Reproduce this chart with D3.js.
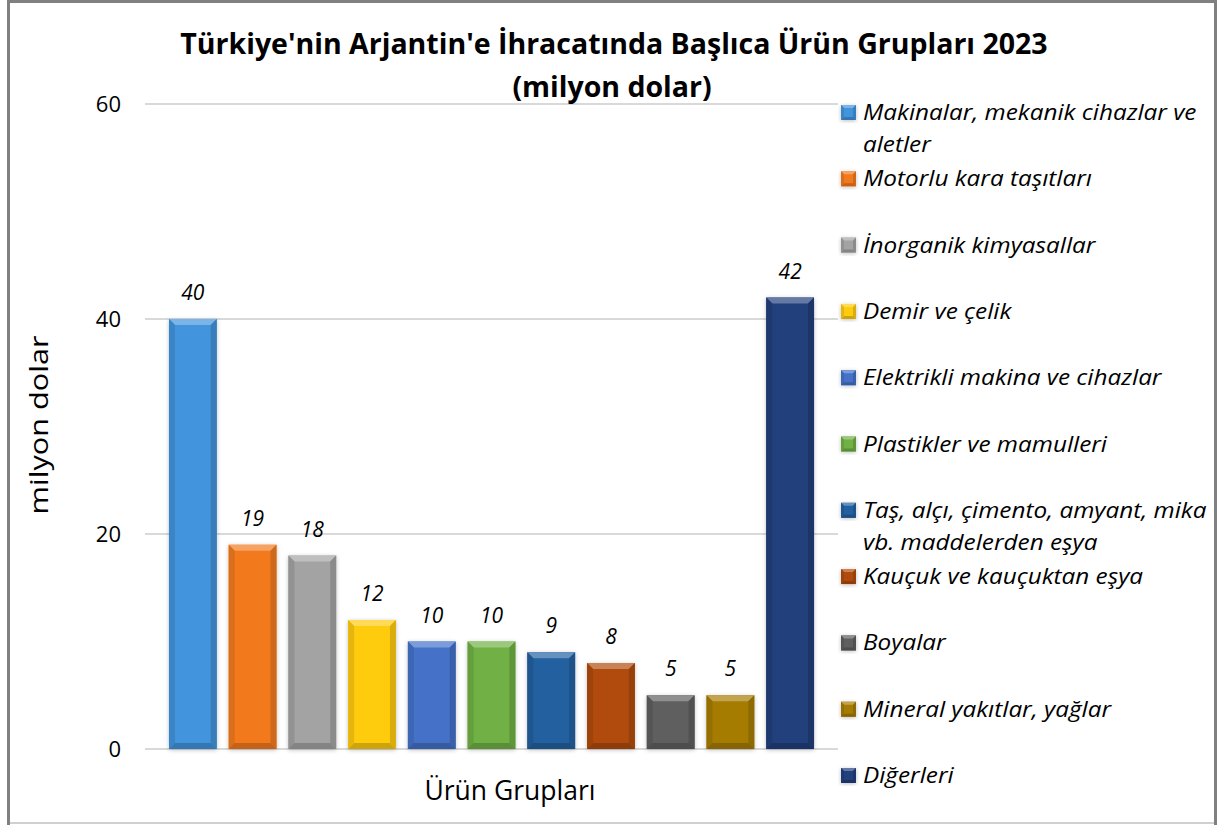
<!DOCTYPE html>
<html lang="tr">
<head>
<meta charset="utf-8">
<script src="https://cdn.jsdelivr.net/npm/d3@7"></script>
<style>
  body { margin: 0; background: #fff; }
  svg text { font-family: "Open Sans", Lato, sans-serif; fill: #000; }
</style>
</head>
<body>
<script>
// data
var categories = ["Makinalar, mekanik cihazlar ve aletler", "Motorlu kara taşıtları", "İnorganik kimyasallar",
  "Demir ve çelik", "Elektrikli makina ve cihazlar", "Plastikler ve mamulleri",
  "Taş, alçı, çimento, amyant, mika vb. maddelerden eşya", "Kauçuk ve kauçuktan eşya",
  "Boyalar", "Mineral yakıtlar, yağlar", "Diğerleri"];
var values = [40, 19, 18, 12, 10, 10, 9, 8, 5, 5, 42];
var legendLines = [["Makinalar, mekanik cihazlar ve", "aletler"], ["Motorlu kara taşıtları"], ["İnorganik kimyasallar"],
  ["Demir ve çelik"], ["Elektrikli makina ve cihazlar"], ["Plastikler ve mamulleri"],
  ["Taş, alçı, çimento, amyant, mika", "vb. maddelerden eşya"], ["Kauçuk ve kauçuktan eşya"],
  ["Boyalar"], ["Mineral yakıtlar, yağlar"], ["Diğerleri"]];
var colors = ["#4294dc", "#f27a1e", "#a3a3a3", "#ffcb0f", "#4471c8", "#6fb044",
  "#2460a0", "#b04c0c", "#5f5f5f", "#a67c05", "#213f7c"];
var yTicks = [0, 20, 40, 60];

var W = 1223, H = 825;
var svg = d3.select("body").append("svg").attr("width", W).attr("height", H);

// chart border
svg.append("rect").attr("x", 0).attr("y", 0).attr("width", W).attr("height", H).attr("fill", "#fff");
svg.append("line").attr("x1", 8).attr("x2", 1216).attr("y1", 823).attr("y2", 823).attr("stroke", "#d0d0d0").attr("stroke-width", 2);
svg.append("rect").attr("x", 8.5).attr("y", 1.5).attr("width", 1207).attr("height", 830)
  .attr("fill", "none").attr("stroke", "#808080").attr("stroke-width", 3);

var y = d3.scaleLinear().domain([0, 60]).range([749, 104]);
var x = d3.scaleBand().domain(categories).range([163, 820]).paddingInner(0.2).paddingOuter(0.1);

// grid
svg.append("g").selectAll("line").data(yTicks).join("line")
  .attr("x1", 145).attr("x2", 838)
  .attr("y1", function(d) { return y(d); }).attr("y2", function(d) { return y(d); })
  .attr("stroke", "#d9d9d9").attr("stroke-width", 2);

// y axis labels
svg.append("g").selectAll("text").data(yTicks).join("text")
  .attr("x", 121).attr("y", function(d) { return y(d) + 8; })
  .attr("text-anchor", "end").attr("font-size", 22)
  .text(function(d) { return d; });

// defs for shadow
var defs = svg.append("defs");
var f = defs.append("filter").attr("id", "sh").attr("x", "-20%").attr("y", "-20%").attr("width", "140%").attr("height", "140%");
f.append("feDropShadow").attr("dx", 0).attr("dy", 1).attr("stdDeviation", 2).attr("flood-color", "#000").attr("flood-opacity", 0.25);

function bevel(g, x0, y0, w, h, c, b) {
  var base = d3.color(c);
  g.append("rect").attr("x", x0).attr("y", y0).attr("width", w).attr("height", h).attr("fill", base).attr("filter", "url(#sh)");
  var x1 = x0 + w, y1 = y0 + h;
  // top
  g.append("path").attr("d", "M" + x0 + "," + y0 + "L" + x1 + "," + y0 + "L" + (x1 - b) + "," + (y0 + b) + "L" + (x0 + b) + "," + (y0 + b) + "Z")
    .attr("fill", d3.interpolateRgb(base, "#fff")(0.3));
  // left
  g.append("path").attr("d", "M" + x0 + "," + y0 + "L" + (x0 + b) + "," + (y0 + b) + "L" + (x0 + b) + "," + (y1 - b) + "L" + x0 + "," + y1 + "Z")
    .attr("fill", base.darker(0.3));
  // right
  g.append("path").attr("d", "M" + x1 + "," + y0 + "L" + (x1 - b) + "," + (y0 + b) + "L" + (x1 - b) + "," + (y1 - b) + "L" + x1 + "," + y1 + "Z")
    .attr("fill", base.darker(0.45));
  // bottom
  g.append("path").attr("d", "M" + x0 + "," + y1 + "L" + (x0 + b) + "," + (y1 - b) + "L" + (x1 - b) + "," + (y1 - b) + "L" + x1 + "," + y1 + "Z")
    .attr("fill", base.darker(0.6));
}

// bars
var bars = svg.append("g");
categories.forEach(function(c, i) {
  var g = bars.append("g");
  bevel(g, x(c), y(values[i]), x.bandwidth(), y(0) - y(values[i]), colors[i], 6);
});

// value labels
svg.append("g").selectAll("text").data(values).join("text")
  .attr("x", function(d, i) { return x(categories[i]) + x.bandwidth() / 2; })
  .attr("y", function(d) { return y(d) - 19; })
  .attr("text-anchor", "middle").attr("font-size", 21).attr("font-style", "italic")
  .text(function(d) { return d; });

// title
svg.append("text").attr("x", 614).attr("y", 54).attr("text-anchor", "middle")
  .attr("font-size", 28.5).attr("font-weight", "bold")
  .text("Türkiye'nin Arjantin'e İhracatında Başlıca Ürün Grupları 2023");
svg.append("text").attr("x", 612).attr("y", 97).attr("text-anchor", "middle")
  .attr("font-size", 28.5).attr("font-weight", "bold")
  .text("(milyon dolar)");

// axis titles
svg.append("text").attr("transform", "translate(48,425) rotate(-90) scale(1.18,1)").attr("text-anchor", "middle")
  .attr("font-size", 26).text("milyon dolar");
svg.append("text").attr("x", 510).attr("y", 800).attr("text-anchor", "middle")
  .attr("font-size", 26.5).text("Ürün Grupları");

// legend
var ly = d3.scalePoint().domain(categories).range([112, 775]);
var leg = svg.append("g");
categories.forEach(function(c, i) {
  var cy = ly(c);
  var g = leg.append("g");
  bevel(g, 841, cy - 7, 15, 15, colors[i], 3);
  legendLines[i].forEach(function(t, j) {
    g.append("text").attr("transform", "translate(863," + (cy + 8 + j * 32) + ") scale(1.08,1)")
      .attr("font-size", 22.5).attr("font-style", "italic").text(t);
  });
});
</script>
</body>
</html>
